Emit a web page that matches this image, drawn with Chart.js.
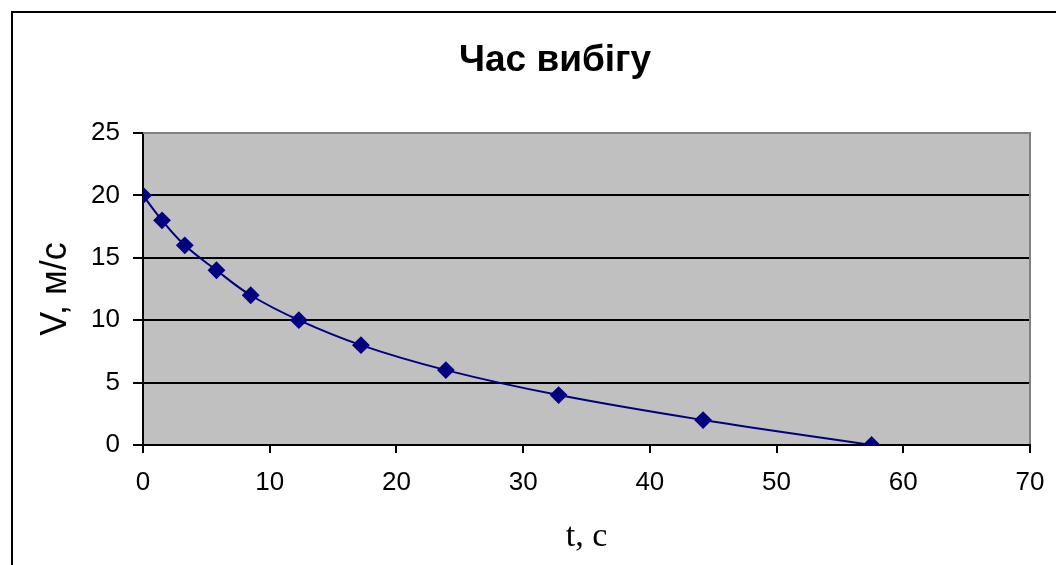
<!DOCTYPE html>
<html>
<head>
<meta charset="utf-8">
<script src="https://cdn.jsdelivr.net/npm/chart.js@4"></script>
<style>
  html, body { margin: 0; padding: 0; background: #fff; overflow: hidden; }
  #wrap { width: 1056px; height: 565px; position: relative; }
</style>
</head>
<body>
<div id="wrap"><canvas id="grafico"></canvas></div>
<script>
// --- DATOS ---
const tiempos = [0, 1.5, 3.3, 5.8, 8.5, 12.3, 17.2, 23.9, 32.8, 44.2, 57.5];
const velocidades = [20, 18, 16, 14, 12, 10, 8, 6, 4, 2, 0];
const xTicks = [0, 10, 20, 30, 40, 50, 60, 70];
const yTicks = [0, 5, 10, 15, 20, 25];
const titulo = "Час вибігу";
const tituloX = "t, c";
const tituloY = "V, м/с";

const puntos = tiempos.map((t, i) => ({ x: t, y: velocidades[i] }));
const sans = "'Liberation Sans', Arial, sans-serif";

// fondo gris, bordes y título
const marco = {
  id: "marco",
  beforeDraw(chart) {
    const { ctx, chartArea: a } = chart;
    ctx.save();
    ctx.fillStyle = "#c0c0c0";
    ctx.fillRect(a.left, a.top, a.right - a.left, a.bottom - a.top);
    ctx.restore();
  },
  beforeDatasetsDraw(chart) {
    const { ctx, chartArea: a } = chart;
    ctx.save();
    ctx.strokeStyle = "#808080";
    ctx.lineWidth = 2;
    ctx.beginPath();
    ctx.moveTo(a.left, a.top);
    ctx.lineTo(a.right, a.top);
    ctx.lineTo(a.right, a.bottom - 1);
    ctx.stroke();
    ctx.restore();
  },
  afterDraw(chart) {
    const { ctx } = chart;
    ctx.save();
    ctx.strokeStyle = "#000";
    ctx.lineWidth = 2;
    ctx.beginPath();
    ctx.moveTo(12, 565);
    ctx.lineTo(12, 12);
    ctx.lineTo(1056, 12);
    ctx.stroke();
    ctx.fillStyle = "#000";
    ctx.font = "bold 37px " + sans;
    ctx.textAlign = "center";
    ctx.textBaseline = "alphabetic";
    ctx.fillText(titulo, 555, 71);
    ctx.restore();
  }
};

new Chart(document.getElementById("grafico"), {
  type: "scatter",
  data: {
    datasets: [{
      data: puntos,
      showLine: true,
      borderColor: "#000080",
      backgroundColor: "#000080",
      borderWidth: 2,
      tension: 0.4,
      pointStyle: "rectRot",
      pointRadius: 7.5,
      pointHoverRadius: 7.5
    }]
  },
  options: {
    responsive: true,
    maintainAspectRatio: false,
    animation: false,
    layout: { padding: { top: 133, right: 26, left: 0, bottom: 0 } },
    plugins: { legend: { display: false }, tooltip: { enabled: false }, title: { display: false } },
    scales: {
      x: {
        type: "linear",
        min: 0,
        max: 70,
        afterBuildTicks: s => { s.ticks = xTicks.map(v => ({ value: v })); },
        afterFit: s => { s.height = 120; s.paddingLeft = 0; s.paddingRight = 0; },
        ticks: { color: "#000", font: { family: sans, size: 26 }, padding: 14, maxRotation: 0 },
        grid: { drawOnChartArea: false, color: "#000", lineWidth: 2, tickLength: 8 },
        border: { color: "#000", width: 2 },
        title: {
          display: true,
          text: tituloX,
          color: "#000",
          font: { family: "'Liberation Serif', 'Times New Roman', serif", size: 34 },
          padding: { top: 0, bottom: 8 }
        }
      },
      y: {
        min: 0,
        max: 25,
        afterBuildTicks: s => { s.ticks = yTicks.map(v => ({ value: v })); },
        afterFit: s => { s.width = 143; s.paddingTop = 0; s.paddingBottom = 0; },
        ticks: { color: "#000", font: { family: sans, size: 26 }, padding: 13 },
        grid: { color: "#000", lineWidth: 2, tickLength: 10 },
        border: { color: "#000", width: 2 },
        title: {
          display: true,
          text: tituloY,
          color: "#000",
          font: { family: sans, size: 36 },
          padding: { top: 34, bottom: 0 }
        }
      }
    }
  },
  plugins: [marco]
});
</script>
</body>
</html>
